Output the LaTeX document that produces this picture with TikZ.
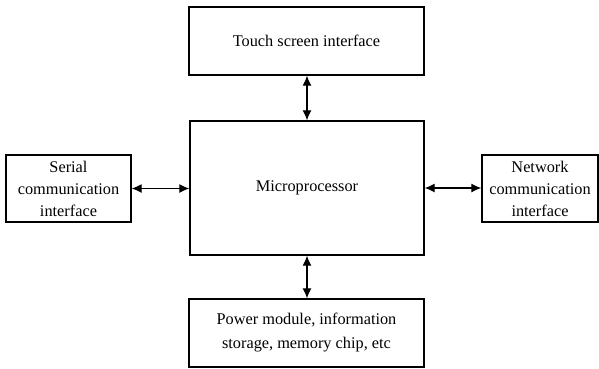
\documentclass[tikz,border=0pt]{standalone}
\usepackage{fontspec}
\setmainfont{Liberation Serif}
\usetikzlibrary{arrows.meta}
\begin{document}
\begin{tikzpicture}[x=1pt,y=-1pt,
  box/.style={draw, line width=1.3pt, align=center, inner sep=0pt,
    font=\rmfamily\fontsize{16.3}{22}\selectfont},
  link/.style={line width=1.2pt, {Latex[length=10pt,width=9pt]}-{Latex[length=10pt,width=9pt]}}]
\useasboundingbox (0,0) rectangle (599,368);
\node[box, minimum width=235pt, minimum height=68pt] (top) at (306.5,41) {Touch screen interface};
\node[box, minimum width=234pt, minimum height=134pt] (mp) at (307,188) {Microprocessor};
\node[box, minimum width=125pt, minimum height=67pt] (ser) at (68.5,188.5) {Serial\\communication\\interface};
\node[box, minimum width=116pt, minimum height=67pt] (net) at (540,188.5) {Network\\communication\\interface};
\node[box, minimum width=235pt, minimum height=68pt, font=\rmfamily\fontsize{16.3}{24}\selectfont] (pow) at (306.5,333) {Power module, information\\storage, memory chip, etc};
\draw[link] (mp.north) -- (mp.north |- top.south);
\draw[link] (mp.south) -- (mp.south |- pow.north);
\draw[link] (ser.east) -- (ser.east -| mp.west);
\draw[link] (mp.east) -- (mp.east -| net.west);
\end{tikzpicture}
\end{document}
